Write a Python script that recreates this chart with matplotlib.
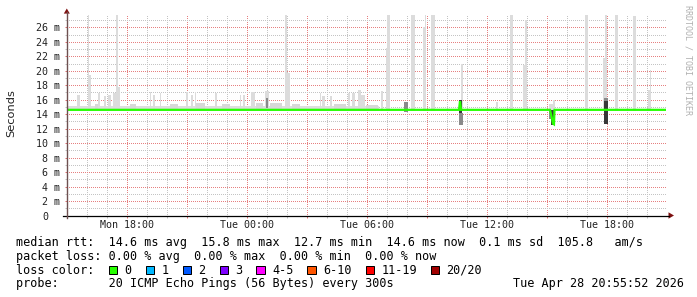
import matplotlib
matplotlib.use("Agg")
import matplotlib.pyplot as plt
from matplotlib.transforms import offset_copy
from matplotlib.patches import Rectangle, Polygon
from matplotlib.lines import Line2D
from matplotlib.ticker import MultipleLocator, NullFormatter

W, H, DPI = 697, 297, 100

# ---------------- data (time = hours since Mon 00:00, values in ms) ----------------
t_first, t_last = 14.96, 44.935

median_t = [14.96, 34.585, 34.635, 34.685, 39.135, 39.185, 39.235, 39.285, 39.335, 39.36, 44.885]
median_v = [14.6, 14.6, 15.8, 14.6, 14.6, 14.0, 13.4, 12.7, 12.6, 14.6, 14.6]

band_start = [14.96]
band_end = [30.6]
band_top = [15.15]
band_floor = 14.5

spike_start = [16.01, 16.085, 17.435, 17.535, 25.885, 25.96, 30.935, 30.985, 32.185,
               32.785, 32.86, 33.185, 34.685, 37.135, 37.785, 37.885, 40.885, 41.785,
               41.885, 42.385, 43.285, 44.035, 44.135]
spike_end = [16.085, 16.16, 17.535, 17.635, 25.96, 26.135, 30.985, 31.135, 32.385,
             32.86, 32.935, 33.385, 34.785, 37.285, 37.885, 37.985, 41.035, 41.885,
             41.96, 42.535, 43.435, 44.135, 44.185]
spike_top = [27.8, 19.4, 27.8, 17.8, 27.8, 19.7, 23.1, 27.8, 27.8,
             26.1, 27.8, 27.8, 21.0, 27.8, 20.8, 27.0, 27.8, 21.7,
             27.8, 27.8, 27.6, 17.3, 20.1]

bump_start = [15.485, 16.535, 16.835, 17.035, 17.285, 19.135, 19.26, 19.635, 20.935,
              21.185, 21.385, 22.385, 23.635, 23.785, 24.185, 24.885, 27.635, 27.735,
              28.135, 29.035, 29.235, 29.535, 29.685, 30.685, 36.435, 39.085, 39.285]
bump_end = [15.61, 16.635, 16.935, 17.185, 17.435, 19.185, 19.385, 19.685, 21.035,
            21.285, 21.435, 22.46, 23.685, 23.885, 24.385, 25.085, 27.685, 27.885,
            28.235, 29.135, 29.385, 29.685, 29.885, 30.785, 36.535, 39.285, 39.385]
bump_top = [16.6, 16.9, 16.5, 16.6, 16.9, 17.0, 16.7, 16.9, 17.0,
            16.7, 17.0, 16.9, 16.6, 16.7, 17.0, 17.2, 16.9, 16.5,
            16.5, 16.9, 16.9, 17.3, 16.7, 17.2, 15.7, 15.4, 16.0]

midbump_start = [16.385, 18.135, 20.135, 21.435, 22.735, 24.435, 25.135, 26.235, 28.335, 29.935]
midbump_end = [16.585, 18.435, 20.535, 21.885, 23.135, 24.785, 25.735, 26.635, 28.935, 30.535]
midbump_top = [15.4, 15.4, 15.4, 15.5, 15.4, 15.5, 15.5, 15.4, 15.4, 15.3]

grey_start = [31.835, 34.585, 41.835, 24.935, 39.085]
grey_end = [32.035, 34.785, 42.035, 25.035, 39.185]
grey_low = [14.3, 12.5, 15.8, 14.8, 13.4]
grey_high = [15.7, 14.1, 16.2, 16.2, 14.6]

dark_start = [34.585, 39.185, 41.835]
dark_end = [34.735, 39.385, 42.035]
dark_low = [14.1, 12.5, 12.6]
dark_high = [15.9, 14.6, 15.8]

ytick_vals = [0, 2, 4, 6, 8, 10, 12, 14, 16, 18, 20, 22, 24, 26]
ytick_labels = ["0  ", "2 m", "4 m", "6 m", "8 m", "10 m", "12 m", "14 m", "16 m",
                "18 m", "20 m", "22 m", "24 m", "26 m"]
xtick_hours = [18, 24, 30, 36, 42]
xtick_labels = ["Mon 18:00", "Tue 00:00", "Tue 06:00", "Tue 12:00", "Tue 18:00"]

rtt_avg, rtt_max, rtt_min, rtt_now, rtt_sd, rtt_am = 14.6, 15.8, 12.7, 14.6, 0.1, 105.8
loss_avg, loss_max, loss_min, loss_now = 0.00, 0.00, 0.00, 0.00
loss_labels = ["0", "1", "2", "3", "4-5", "6-10", "11-19", "20/20"]
loss_colors = ["#26ff00", "#00b8ff", "#0059ff", "#7e00ff", "#ff00ff", "#ff5500", "#ff0000", "#a00000"]
probe_text = "20 ICMP Echo Pings (56 Bytes) every 300s"
stamp_text = "Tue Apr 28 20:55:52 2026"

# ---------------- figure ----------------
MONO = "DejaVu Sans Mono"
fig = plt.figure(figsize=(W / DPI, H / DPI), dpi=DPI)
fig.patch.set_facecolor("white")

def fx(x):
    return x / W

def fy(y):
    return 1 - y / H

L, R, T, B = 66.5, 666.0, 14.5, 215.5
ax = fig.add_axes([fx(L), fy(B), (R - L) / W, (B - T) / H])
ax.set_facecolor("white")
ax.set_xlim(t_first, t_last)
ax.set_ylim(0, 27.77)
for s in ax.spines.values():
    s.set_visible(False)

# smoke
def bars(starts, ends, lows, highs, color, z=1):
    ax.bar(x=starts, height=[h - l for l, h in zip(lows, highs)],
           width=[e - s for s, e in zip(starts, ends)], bottom=lows,
           align="edge", color=color, linewidth=0, zorder=z)

bars(band_start, band_end, [band_floor] * len(band_start), band_top, "#dedede")
bars(midbump_start, midbump_end, [band_floor] * len(midbump_start), midbump_top, "#d8d8d8")
bars(bump_start, bump_end, [band_floor] * len(bump_start), bump_top, "#dcdcdc")
bars(spike_start, spike_end, [band_floor] * len(spike_start), spike_top, "#dcdcdc")
bars(grey_start, grey_end, grey_low, grey_high, "#8a8a8a", z=1.1)
bars(dark_start, dark_end, dark_low, dark_high, "#383838", z=1.2)

# median
ax.plot(median_t, median_v, color="#26ff00", lw=1.6, zorder=3, solid_joinstyle="miter")

# grid
ax.xaxis.set_major_locator(MultipleLocator(3))
ax.xaxis.set_minor_locator(MultipleLocator(1))
ax.yaxis.set_major_locator(MultipleLocator(2))
ax.yaxis.set_minor_locator(MultipleLocator(1))
ax.xaxis.set_major_formatter(NullFormatter())
ax.yaxis.set_major_formatter(NullFormatter())
ax.set_axisbelow(True)
ax.grid(which="major", color="#e68080", linestyle=(0.5, (1, 1)), linewidth=0.72)
ax.grid(which="minor", color="#c4c4c4", linestyle=(0.5, (1, 1)), linewidth=0.72)
ax.tick_params(which="major", length=1.6, width=0.72, color="#e07070", direction="out")
ax.tick_params(which="minor", length=1.6, width=0.72, color="#c0c0c0", direction="out")

# axes lines and arrows
fig.add_artist(Line2D([fx(63), fx(669)], [fy(B), fy(B)], color="black", lw=0.9))
fig.add_artist(Line2D([fx(66.8), fx(66.8)], [fy(218), fy(12)], color="#6e5050", lw=1.0))
fig.add_artist(Polygon([[fx(63.8), fy(13.6)], [fx(69.8), fy(13.6)], [fx(66.8), fy(8.5)]],
                       closed=True, color="#7f1010", lw=0))
fig.add_artist(Polygon([[fx(668.5), fy(212.3)], [fx(668.5), fy(218.7)], [fx(674), fy(B)]],
                       closed=True, color="#7f1010", lw=0))

# tick labels
for v, s in zip(ytick_vals, ytick_labels):
    trail = len(s) - len(s.rstrip())
    tr = offset_copy(ax.get_yaxis_transform(), fig, x=-(L - 60.5) - trail * 6.0, y=-1.0, units="dots")
    ax.text(0, v, s.rstrip(), transform=tr, ha="right", va="center",
            family=MONO, fontsize=7.2, color="#222222")
for h, s in zip(xtick_hours, xtick_labels):
    tr = offset_copy(ax.get_xaxis_transform(), fig, x=0, y=-(224.5 - B), units="dots")
    ax.text(h, 0, s, transform=tr, ha="center", va="center", family=MONO,
            fontsize=7.2, color="#222222")

fig.text(fx(11), fy(113), "Seconds", rotation=90, ha="center", va="center",
         fontsize=8.2, family="DejaVu Sans", color="#222222")
fig.text(fx(688), fy(5), "RRDTOOL / TOBI OETIKER", rotation=270, ha="center", va="top",
         family=MONO, fontsize=6.0, color="#b0b0b0")

# legend rows
LFS = 8.45
row1 = (f"median rtt:  {rtt_avg:.1f} ms avg  {rtt_max:.1f} ms max  {rtt_min:.1f} ms min  "
        f"{rtt_now:.1f} ms now  {rtt_sd:.1f} ms sd  {rtt_am:.1f}   am/s")
row2 = (f"packet loss: {loss_avg:.2f} % avg  {loss_max:.2f} % max  "
        f"{loss_min:.2f} % min  {loss_now:.2f} % now")
fig.text(fx(16.3), fy(246), row1, family=MONO, fontsize=LFS, va="baseline", ha="left")
fig.text(fx(16.3), fy(260), row2, family=MONO, fontsize=LFS, va="baseline", ha="left")
fig.text(fx(16.3), fy(273.5), "loss color:", family=MONO, fontsize=LFS, va="baseline", ha="left")
pitch = 7.07
bx = 108.8
for lab, col in zip(loss_labels, loss_colors):
    fig.add_artist(Rectangle((fx(bx), fy(274)), 8.5 / W, 8.0 / H, transform=fig.transFigure,
                             facecolor=col, edgecolor="black", lw=0.72))
    fig.text(fx(bx + 15.7), fy(273.5), lab, family=MONO, fontsize=LFS, va="baseline", ha="left")
    bx += 15.7 + len(lab) * pitch + 2 * pitch
fig.text(fx(16.3), fy(287.5), "probe:       " + probe_text, family=MONO, fontsize=LFS,
         va="baseline", ha="left")
fig.text(fx(684), fy(287.5), stamp_text, family=MONO, fontsize=LFS, va="baseline", ha="right")

fig.savefig("out.png", dpi=DPI, facecolor="white")
